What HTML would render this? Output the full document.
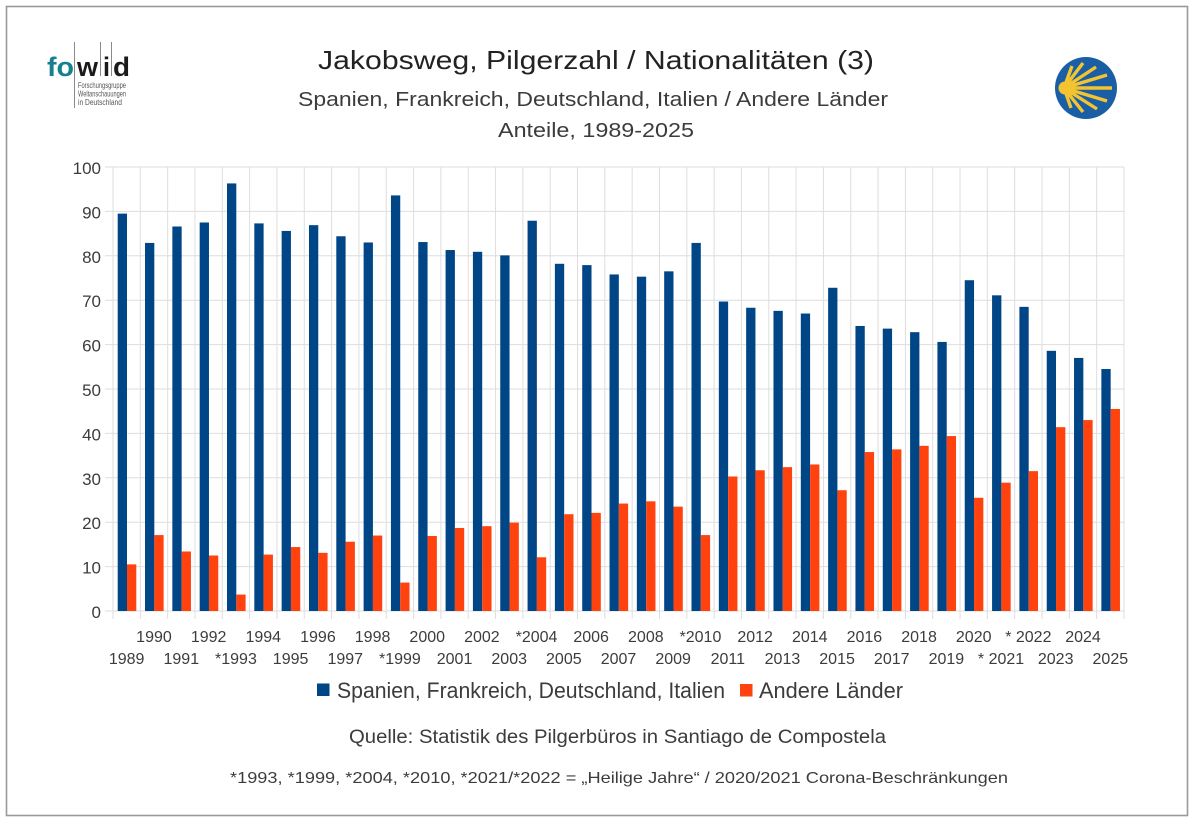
<!DOCTYPE html>
<html><head><meta charset="utf-8"><style>
html,body{margin:0;padding:0;background:#fff;}
svg{display:block;font-family:"Liberation Sans",sans-serif;}
</style></head><body>
<svg width="1200" height="823" viewBox="0 0 1200 823" xmlns="http://www.w3.org/2000/svg">
<rect x="0" y="0" width="1200" height="823" fill="#fff"/>
<rect x="6.5" y="6.5" width="1181" height="809" fill="none" stroke="#9a9a9a" stroke-width="1.6"/>

<!-- fowid logo -->
<g>
<line x1="74.5" y1="42" x2="74.5" y2="108" stroke="#8a8a8a" stroke-width="1"/>
<line x1="100.5" y1="42" x2="100.5" y2="76" stroke="#8a8a8a" stroke-width="1"/>
<line x1="111.5" y1="42" x2="111.5" y2="76" stroke="#8a8a8a" stroke-width="1"/>
<text x="47" y="76" font-size="27" font-weight="bold" fill="#17808f" textLength="27" lengthAdjust="spacingAndGlyphs">fo</text>
<text x="77" y="76" font-size="27" font-weight="bold" fill="#1a1a1a" textLength="21" lengthAdjust="spacingAndGlyphs">w</text>
<text x="103" y="76" font-size="27" font-weight="bold" fill="#1a1a1a" textLength="7" lengthAdjust="spacingAndGlyphs">i</text>
<text x="113" y="76" font-size="27" font-weight="bold" fill="#1a1a1a" textLength="17" lengthAdjust="spacingAndGlyphs">d</text>
<text x="78" y="88" font-size="8.5" fill="#555" textLength="48" lengthAdjust="spacingAndGlyphs">Forschungsgruppe</text>
<text x="78" y="96.5" font-size="8.5" fill="#555" textLength="48" lengthAdjust="spacingAndGlyphs">Weltanschauungen</text>
<text x="78" y="105" font-size="8.5" fill="#555" textLength="44" lengthAdjust="spacingAndGlyphs">in Deutschland</text>
</g>

<!-- shell logo -->
<g>
<circle cx="1086" cy="88" r="31" fill="#1a5fa5"/>
<g stroke="#f4c430" stroke-width="3.4" stroke-linecap="butt">
<line x1="1064" y1="88" x2="1072" y2="66"/>
<line x1="1064" y1="88" x2="1083" y2="63"/>
<line x1="1064" y1="88" x2="1096" y2="67"/>
<line x1="1064" y1="88" x2="1107" y2="75"/>
<line x1="1064" y1="88" x2="1112" y2="88"/>
<line x1="1064" y1="88" x2="1107" y2="101"/>
<line x1="1064" y1="88" x2="1097" y2="109"/>
<line x1="1064" y1="88" x2="1083" y2="112"/>
<line x1="1064" y1="88" x2="1071" y2="108"/>
</g>
<circle cx="1065" cy="88" r="6.5" fill="#f4c430"/>
</g>

<!-- titles -->
<text x="318" y="69" font-size="26" fill="#222" textLength="556" lengthAdjust="spacingAndGlyphs">Jakobsweg, Pilgerzahl / Nationalitäten (3)</text>
<text x="298" y="106" font-size="20" fill="#3c3c3c" textLength="590" lengthAdjust="spacingAndGlyphs">Spanien, Frankreich, Deutschland, Italien / Andere Länder</text>
<text x="498" y="137" font-size="20" fill="#3c3c3c" textLength="196" lengthAdjust="spacingAndGlyphs">Anteile, 1989-2025</text>

<!-- gridlines -->
<g stroke="#dedede" stroke-width="1">
<line x1="105" y1="167" x2="1124" y2="167"/>
<line x1="105" y1="211.4" x2="1124" y2="211.4"/>
<line x1="105" y1="255.8" x2="1124" y2="255.8"/>
<line x1="105" y1="300.2" x2="1124" y2="300.2"/>
<line x1="105" y1="344.6" x2="1124" y2="344.6"/>
<line x1="105" y1="389" x2="1124" y2="389"/>
<line x1="105" y1="433.4" x2="1124" y2="433.4"/>
<line x1="105" y1="477.8" x2="1124" y2="477.8"/>
<line x1="105" y1="522.2" x2="1124" y2="522.2"/>
<line x1="105" y1="566.6" x2="1124" y2="566.6"/>
<line x1="105" y1="611" x2="1124" y2="611"/>
<line x1="113" y1="167" x2="113" y2="619"/>
<line x1="140.32" y1="167" x2="140.32" y2="619"/>
<line x1="167.65" y1="167" x2="167.65" y2="619"/>
<line x1="194.97" y1="167" x2="194.97" y2="619"/>
<line x1="222.3" y1="167" x2="222.3" y2="619"/>
<line x1="249.62" y1="167" x2="249.62" y2="619"/>
<line x1="276.94" y1="167" x2="276.94" y2="619"/>
<line x1="304.27" y1="167" x2="304.27" y2="619"/>
<line x1="331.59" y1="167" x2="331.59" y2="619"/>
<line x1="358.92" y1="167" x2="358.92" y2="619"/>
<line x1="386.24" y1="167" x2="386.24" y2="619"/>
<line x1="413.56" y1="167" x2="413.56" y2="619"/>
<line x1="440.89" y1="167" x2="440.89" y2="619"/>
<line x1="468.21" y1="167" x2="468.21" y2="619"/>
<line x1="495.54" y1="167" x2="495.54" y2="619"/>
<line x1="522.86" y1="167" x2="522.86" y2="619"/>
<line x1="550.18" y1="167" x2="550.18" y2="619"/>
<line x1="577.51" y1="167" x2="577.51" y2="619"/>
<line x1="604.83" y1="167" x2="604.83" y2="619"/>
<line x1="632.16" y1="167" x2="632.16" y2="619"/>
<line x1="659.48" y1="167" x2="659.48" y2="619"/>
<line x1="686.8" y1="167" x2="686.8" y2="619"/>
<line x1="714.13" y1="167" x2="714.13" y2="619"/>
<line x1="741.45" y1="167" x2="741.45" y2="619"/>
<line x1="768.78" y1="167" x2="768.78" y2="619"/>
<line x1="796.1" y1="167" x2="796.1" y2="619"/>
<line x1="823.42" y1="167" x2="823.42" y2="619"/>
<line x1="850.75" y1="167" x2="850.75" y2="619"/>
<line x1="878.07" y1="167" x2="878.07" y2="619"/>
<line x1="905.4" y1="167" x2="905.4" y2="619"/>
<line x1="932.72" y1="167" x2="932.72" y2="619"/>
<line x1="960.04" y1="167" x2="960.04" y2="619"/>
<line x1="987.37" y1="167" x2="987.37" y2="619"/>
<line x1="1014.69" y1="167" x2="1014.69" y2="619"/>
<line x1="1042.02" y1="167" x2="1042.02" y2="619"/>
<line x1="1069.34" y1="167" x2="1069.34" y2="619"/>
<line x1="1096.66" y1="167" x2="1096.66" y2="619"/>
<line x1="1123.99" y1="167" x2="1123.99" y2="619"/>
</g>

<!-- y labels -->
<g font-size="17" fill="#3c3c3c" text-anchor="end">
<text x="101" y="174">100</text>
<text x="101" y="218.4">90</text>
<text x="101" y="262.8">80</text>
<text x="101" y="307.2">70</text>
<text x="101" y="351.6">60</text>
<text x="101" y="396">50</text>
<text x="101" y="440.4">40</text>
<text x="101" y="484.8">30</text>
<text x="101" y="529.2">20</text>
<text x="101" y="573.6">10</text>
<text x="101" y="618">0</text>
</g>

<!-- bars -->
<g>
<g transform="translate(113,0)"><rect x="4.7" y="213.62" width="9.3" height="397.38" fill="#004586"/><rect x="14" y="564.38" width="9.3" height="46.62" fill="#ff420e"/></g>
<g transform="translate(140.32,0)"><rect x="4.7" y="242.92" width="9.3" height="368.08" fill="#004586"/><rect x="14" y="535.08" width="9.3" height="75.92" fill="#ff420e"/></g>
<g transform="translate(167.65,0)"><rect x="4.7" y="226.5" width="9.3" height="384.5" fill="#004586"/><rect x="14" y="551.5" width="9.3" height="59.5" fill="#ff420e"/></g>
<g transform="translate(194.97,0)"><rect x="4.7" y="222.5" width="9.3" height="388.5" fill="#004586"/><rect x="14" y="555.5" width="9.3" height="55.5" fill="#ff420e"/></g>
<g transform="translate(222.3,0)"><rect x="4.7" y="183.43" width="9.3" height="427.57" fill="#004586"/><rect x="14" y="594.57" width="9.3" height="16.43" fill="#ff420e"/></g>
<g transform="translate(249.62,0)"><rect x="4.7" y="223.39" width="9.3" height="387.61" fill="#004586"/><rect x="14" y="554.61" width="9.3" height="56.39" fill="#ff420e"/></g>
<g transform="translate(276.94,0)"><rect x="4.7" y="230.94" width="9.3" height="380.06" fill="#004586"/><rect x="14" y="547.06" width="9.3" height="63.94" fill="#ff420e"/></g>
<g transform="translate(304.27,0)"><rect x="4.7" y="225.16" width="9.3" height="385.84" fill="#004586"/><rect x="14" y="552.84" width="9.3" height="58.16" fill="#ff420e"/></g>
<g transform="translate(331.59,0)"><rect x="4.7" y="236.26" width="9.3" height="374.74" fill="#004586"/><rect x="14" y="541.74" width="9.3" height="69.26" fill="#ff420e"/></g>
<g transform="translate(358.92,0)"><rect x="4.7" y="242.48" width="9.3" height="368.52" fill="#004586"/><rect x="14" y="535.52" width="9.3" height="75.48" fill="#ff420e"/></g>
<g transform="translate(386.24,0)"><rect x="4.7" y="195.42" width="9.3" height="415.58" fill="#004586"/><rect x="14" y="582.58" width="9.3" height="28.42" fill="#ff420e"/></g>
<g transform="translate(413.56,0)"><rect x="4.7" y="242.04" width="9.3" height="368.96" fill="#004586"/><rect x="14" y="535.96" width="9.3" height="75.04" fill="#ff420e"/></g>
<g transform="translate(440.89,0)"><rect x="4.7" y="250.03" width="9.3" height="360.97" fill="#004586"/><rect x="14" y="527.97" width="9.3" height="83.03" fill="#ff420e"/></g>
<g transform="translate(468.21,0)"><rect x="4.7" y="251.8" width="9.3" height="359.2" fill="#004586"/><rect x="14" y="526.2" width="9.3" height="84.8" fill="#ff420e"/></g>
<g transform="translate(495.54,0)"><rect x="4.7" y="255.36" width="9.3" height="355.64" fill="#004586"/><rect x="14" y="522.64" width="9.3" height="88.36" fill="#ff420e"/></g>
<g transform="translate(522.86,0)"><rect x="4.7" y="220.72" width="9.3" height="390.28" fill="#004586"/><rect x="14" y="557.28" width="9.3" height="53.72" fill="#ff420e"/></g>
<g transform="translate(550.18,0)"><rect x="4.7" y="263.79" width="9.3" height="347.21" fill="#004586"/><rect x="14" y="514.21" width="9.3" height="96.79" fill="#ff420e"/></g>
<g transform="translate(577.51,0)"><rect x="4.7" y="265.12" width="9.3" height="345.88" fill="#004586"/><rect x="14" y="512.88" width="9.3" height="98.12" fill="#ff420e"/></g>
<g transform="translate(604.83,0)"><rect x="4.7" y="274.45" width="9.3" height="336.55" fill="#004586"/><rect x="14" y="503.55" width="9.3" height="107.45" fill="#ff420e"/></g>
<g transform="translate(632.16,0)"><rect x="4.7" y="276.67" width="9.3" height="334.33" fill="#004586"/><rect x="14" y="501.33" width="9.3" height="109.67" fill="#ff420e"/></g>
<g transform="translate(659.48,0)"><rect x="4.7" y="271.34" width="9.3" height="339.66" fill="#004586"/><rect x="14" y="506.66" width="9.3" height="104.34" fill="#ff420e"/></g>
<g transform="translate(686.8,0)"><rect x="4.7" y="242.92" width="9.3" height="368.08" fill="#004586"/><rect x="14" y="535.08" width="9.3" height="75.92" fill="#ff420e"/></g>
<g transform="translate(714.13,0)"><rect x="4.7" y="301.53" width="9.3" height="309.47" fill="#004586"/><rect x="14" y="476.47" width="9.3" height="134.53" fill="#ff420e"/></g>
<g transform="translate(741.45,0)"><rect x="4.7" y="307.75" width="9.3" height="303.25" fill="#004586"/><rect x="14" y="470.25" width="9.3" height="140.75" fill="#ff420e"/></g>
<g transform="translate(768.78,0)"><rect x="4.7" y="310.86" width="9.3" height="300.14" fill="#004586"/><rect x="14" y="467.14" width="9.3" height="143.86" fill="#ff420e"/></g>
<g transform="translate(796.1,0)"><rect x="4.7" y="313.52" width="9.3" height="297.48" fill="#004586"/><rect x="14" y="464.48" width="9.3" height="146.52" fill="#ff420e"/></g>
<g transform="translate(823.42,0)"><rect x="4.7" y="287.77" width="9.3" height="323.23" fill="#004586"/><rect x="14" y="490.23" width="9.3" height="120.77" fill="#ff420e"/></g>
<g transform="translate(850.75,0)"><rect x="4.7" y="325.95" width="9.3" height="285.05" fill="#004586"/><rect x="14" y="452.05" width="9.3" height="158.95" fill="#ff420e"/></g>
<g transform="translate(878.07,0)"><rect x="4.7" y="328.62" width="9.3" height="282.38" fill="#004586"/><rect x="14" y="449.38" width="9.3" height="161.62" fill="#ff420e"/></g>
<g transform="translate(905.4,0)"><rect x="4.7" y="332.17" width="9.3" height="278.83" fill="#004586"/><rect x="14" y="445.83" width="9.3" height="165.17" fill="#ff420e"/></g>
<g transform="translate(932.72,0)"><rect x="4.7" y="341.94" width="9.3" height="269.06" fill="#004586"/><rect x="14" y="436.06" width="9.3" height="174.94" fill="#ff420e"/></g>
<g transform="translate(960.04,0)"><rect x="4.7" y="280.22" width="9.3" height="330.78" fill="#004586"/><rect x="14" y="497.78" width="9.3" height="113.22" fill="#ff420e"/></g>
<g transform="translate(987.37,0)"><rect x="4.7" y="295.32" width="9.3" height="315.68" fill="#004586"/><rect x="14" y="482.68" width="9.3" height="128.32" fill="#ff420e"/></g>
<g transform="translate(1014.69,0)"><rect x="4.7" y="306.86" width="9.3" height="304.14" fill="#004586"/><rect x="14" y="471.14" width="9.3" height="139.86" fill="#ff420e"/></g>
<g transform="translate(1042.02,0)"><rect x="4.7" y="350.82" width="9.3" height="260.18" fill="#004586"/><rect x="14" y="427.18" width="9.3" height="183.82" fill="#ff420e"/></g>
<g transform="translate(1069.34,0)"><rect x="4.7" y="357.92" width="9.3" height="253.08" fill="#004586"/><rect x="14" y="420.08" width="9.3" height="190.92" fill="#ff420e"/></g>
<g transform="translate(1096.66,0)"><rect x="4.7" y="369.02" width="9.3" height="241.98" fill="#004586"/><rect x="14" y="408.98" width="9.3" height="202.02" fill="#ff420e"/></g>
</g>

<!-- x labels -->
<g font-size="16" fill="#3c3c3c" text-anchor="middle">
<text x="126.66" y="664">1989</text>
<text x="153.98" y="642">1990</text>
<text x="181.31" y="664">1991</text>
<text x="208.63" y="642">1992</text>
<text x="235.96" y="664">*1993</text>
<text x="263.28" y="642">1994</text>
<text x="290.6" y="664">1995</text>
<text x="317.93" y="642">1996</text>
<text x="345.25" y="664">1997</text>
<text x="372.58" y="642">1998</text>
<text x="399.9" y="664">*1999</text>
<text x="427.22" y="642">2000</text>
<text x="454.55" y="664">2001</text>
<text x="481.87" y="642">2002</text>
<text x="509.2" y="664">2003</text>
<text x="536.52" y="642">*2004</text>
<text x="563.84" y="664">2005</text>
<text x="591.17" y="642">2006</text>
<text x="618.49" y="664">2007</text>
<text x="645.82" y="642">2008</text>
<text x="673.14" y="664">2009</text>
<text x="700.46" y="642">*2010</text>
<text x="727.79" y="664">2011</text>
<text x="755.11" y="642">2012</text>
<text x="782.44" y="664">2013</text>
<text x="809.76" y="642">2014</text>
<text x="837.08" y="664">2015</text>
<text x="864.41" y="642">2016</text>
<text x="891.73" y="664">2017</text>
<text x="919.06" y="642">2018</text>
<text x="946.38" y="664">2019</text>
<text x="973.7" y="642">2020</text>
<text x="1001.03" y="664">* 2021</text>
<text x="1028.35" y="642">* 2022</text>
<text x="1055.68" y="664">2023</text>
<text x="1083" y="642">2024</text>
<text x="1110.32" y="664">2025</text>
</g>

<!-- legend -->
<rect x="317" y="683.5" width="12.5" height="12.5" fill="#004586"/>
<text x="337" y="698" font-size="22" fill="#3c3c3c" textLength="388" lengthAdjust="spacingAndGlyphs">Spanien, Frankreich, Deutschland, Italien</text>
<rect x="740" y="684" width="12.5" height="12.5" fill="#ff420e"/>
<text x="759" y="698" font-size="22" fill="#3c3c3c" textLength="144" lengthAdjust="spacingAndGlyphs">Andere Länder</text>

<!-- source & footer -->
<text x="349" y="743" font-size="19" fill="#3c3c3c" textLength="537" lengthAdjust="spacingAndGlyphs">Quelle: Statistik des Pilgerbüros in Santiago de Compostela</text>
<text x="230" y="783" font-size="16" fill="#3c3c3c" textLength="778" lengthAdjust="spacingAndGlyphs">*1993, *1999, *2004, *2010, *2021/*2022 = „Heilige Jahre“ / 2020/2021 Corona-Beschränkungen</text>
</svg>
</body></html>
